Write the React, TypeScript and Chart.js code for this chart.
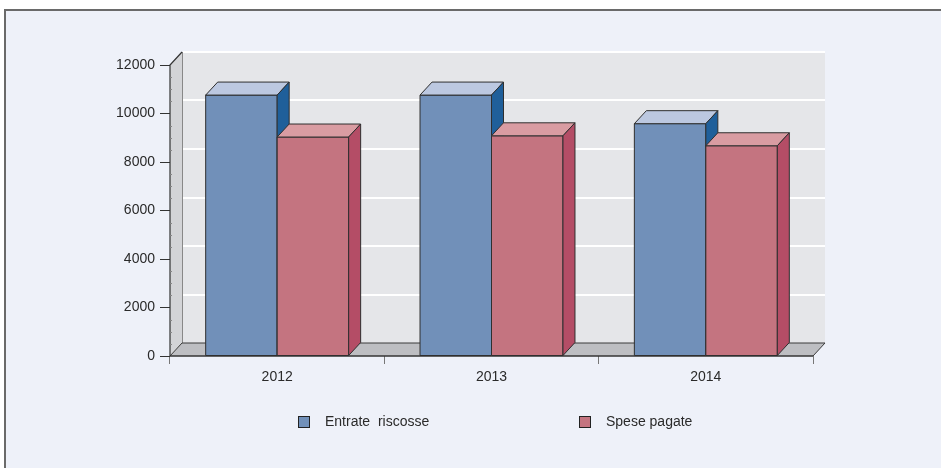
import React, { useEffect, useRef } from "react";
import { Chart, registerables } from "chart.js";

Chart.register(...registerables);

const categories = ["2012", "2013", "2014"];
const entrateRiscosse = [10760, 10760, 9580];
const spesePagate = [9030, 9080, 8670];
const seriesLabels = ["Entrate  riscosse", "Spese pagate"];
const yMin = 0;
const yMax = 12000;
const yStep = 2000;

const FONT = "'Liberation Sans', Arial, Helvetica, sans-serif";
const DX = 12;
const DY = -13;

const palettes = [
  { front: "#7190B9", top: "#BCC8E0", side: "#1F5F9A" },
  { front: "#C47480", top: "#D99CA2", side: "#B44D66" },
];

function poly(ctx: CanvasRenderingContext2D, pts: number[][], fill: string, stroke?: string) {
  ctx.beginPath();
  ctx.moveTo(pts[0][0], pts[0][1]);
  for (let i = 1; i < pts.length; i++) ctx.lineTo(pts[i][0], pts[i][1]);
  ctx.closePath();
  ctx.fillStyle = fill;
  ctx.fill();
  if (stroke) {
    ctx.strokeStyle = stroke;
    ctx.lineWidth = 1;
    ctx.stroke();
  }
}

const threeD = {
  id: "threeD",
  beforeDatasetsDraw(chart: any) {
    const ctx: CanvasRenderingContext2D = chart.ctx;
    const { left, right, top, bottom } = chart.chartArea;
    const ys = chart.scales.y;
    ctx.save();
    // back wall
    ctx.fillStyle = "#E5E6E9";
    ctx.fillRect(left + DX, top + DY, right - left, bottom - top);
    // gridlines on back wall
    ctx.strokeStyle = "#FFFFFF";
    ctx.lineWidth = 2;
    for (let v = yMin + yStep; v <= yMax; v += yStep) {
      const py = Math.round(ys.getPixelForValue(v) + DY);
      ctx.beginPath();
      ctx.moveTo(left + DX + 1, py);
      ctx.lineTo(right + DX, py);
      ctx.stroke();
    }
    // side wall
    poly(
      ctx,
      [
        [left, bottom],
        [left, top],
        [left + DX, top + DY],
        [left + DX, bottom + DY],
      ],
      "#D3D4D7"
    );
    ctx.strokeStyle = "#888";
    ctx.lineWidth = 1;
    ctx.beginPath();
    ctx.moveTo(left + DX + 0.5, top + DY);
    ctx.lineTo(left + DX + 0.5, bottom + DY);
    ctx.stroke();
    // floor
    poly(
      ctx,
      [
        [left, bottom],
        [right, bottom],
        [right + DX, bottom + DY],
        [left + DX, bottom + DY],
      ],
      "#BDBEC2",
      "#3a3a3a"
    );
    // front axis line + top diagonal
    ctx.strokeStyle = "#333";
    ctx.lineWidth = 1.2;
    ctx.beginPath();
    ctx.moveTo(left + DX, top + DY);
    ctx.lineTo(left, top);
    ctx.lineTo(left, bottom);
    ctx.lineTo(right, bottom);
    ctx.stroke();
    // minor ticks on front axis
    ctx.strokeStyle = "#888";
    ctx.lineWidth = 1;
    for (let v = yMin + yStep / 4; v < yMax; v += yStep / 4) {
      if (v % yStep === 0) continue;
      const py = Math.round(ys.getPixelForValue(v)) + 0.5;
      ctx.beginPath();
      ctx.moveTo(left, py);
      ctx.lineTo(left + 2, py);
      ctx.stroke();
    }
    // bars
    const metas = chart.data.datasets.map((_: any, i: number) => chart.getDatasetMeta(i));
    const n = chart.data.labels.length;
    for (let j = 0; j < n; j++) {
      metas.forEach((meta: any, i: number) => {
        const el = meta.data[j];
        const p = palettes[i];
        const w = el.width;
        const l = el.x - w / 2;
        const r = el.x + w / 2;
        const t = el.y;
        const b = el.base;
        poly(ctx, [[l, t], [r, t], [r, b], [l, b]], p.front, "#2f2f2f");
        poly(ctx, [[l, t], [r, t], [r + DX, t + DY], [l + DX, t + DY]], p.top, "#2f2f2f");
        poly(ctx, [[r, t], [r + DX, t + DY], [r + DX, b + DY], [r, b]], p.side, "#2f2f2f");
      });
    }
    ctx.restore();
    return false;
  },
  afterDraw(chart: any) {
    const ctx: CanvasRenderingContext2D = chart.ctx;
    ctx.save();
    const positions = [298, 579];
    const yTop = 416;
    chart.data.datasets.forEach((ds: any, i: number) => {
      const x = positions[i];
      ctx.fillStyle = palettes[i].front;
      ctx.fillRect(x, yTop, 11, 11);
      ctx.strokeStyle = "#222";
      ctx.lineWidth = 1;
      ctx.strokeRect(x + 0.5, yTop + 0.5, 11, 11);
      ctx.fillStyle = "#2a2a2a";
      ctx.font = `14px ${FONT}`;
      ctx.textBaseline = "middle";
      ctx.textAlign = "left";
      ctx.fillText(ds.label, x + 27, yTop + 6);
    });
    ctx.restore();
  },
};

export default function App() {
  const ref = useRef<HTMLCanvasElement | null>(null);
  useEffect(() => {
    if (!ref.current) return;
    const chart = new Chart(ref.current, {
      type: "bar",
      data: {
        labels: categories,
        datasets: [
          { label: seriesLabels[0], data: entrateRiscosse, backgroundColor: palettes[0].front },
          { label: seriesLabels[1], data: spesePagate, backgroundColor: palettes[1].front },
        ],
      },
      options: {
        responsive: false,
        animation: false,
        events: [],
        datasets: { bar: { categoryPercentage: 0.667, barPercentage: 1 } },
        layout: { padding: { top: 65, right: 128, left: 0, bottom: 0 } },
        plugins: { legend: { display: false }, tooltip: { enabled: false } },
        scales: {
          x: {
            offset: true,
            grid: { display: true, drawOnChartArea: false, offset: true, tickLength: 8, color: "#777" },
            border: { display: false },
            ticks: { font: { family: FONT, size: 14 }, color: "#2a2a2a", padding: 5 },
            afterFit(s: any) {
              s.height = 112;
            },
          },
          y: {
            min: yMin,
            max: yMax,
            ticks: {
              stepSize: yStep,
              font: { family: FONT, size: 14 },
              color: "#2a2a2a",
              padding: 5,
              callback: (v: any) => String(v),
            },
            grid: { drawOnChartArea: false, tickLength: 10, color: "#333" },
            border: { display: false },
            afterFit(s: any) {
              s.width = 170;
            },
          },
        },
      },
      plugins: [threeD],
    } as any);
    return () => chart.destroy();
  }, []);
  return (
    <div style={{ position: "fixed", left: 0, top: 0, width: 941, height: 468, background: "#fff", overflow: "hidden" }}>
      <div
        style={{
          position: "absolute",
          left: 4,
          top: 9,
          width: 960,
          height: 480,
          background: "#EEF1F9",
          borderLeft: "2px solid #6a6a6a",
          borderTop: "2px solid #6a6a6a",
        }}
      />
      <canvas ref={ref} width={941} height={468} style={{ position: "absolute", left: 0, top: 0 }} />
    </div>
  );
}
